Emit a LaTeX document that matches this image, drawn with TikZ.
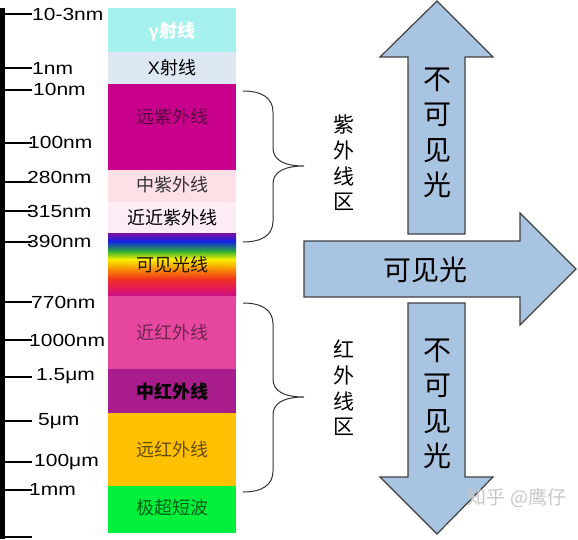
\documentclass[tikz,border=0pt]{standalone}
\usepackage{fontspec}
\setmainfont{Liberation Sans}
\newfontfamily\labfont[FakeStretch=1.2]{Liberation Sans}
\newfontfamily\cjk{Noto Sans CJK SC}

\definecolor{gammacyan}{RGB}{166,240,238}
\definecolor{xgrey}{RGB}{222,232,242}
\definecolor{farviolet}{RGB}{200,0,140}
\definecolor{midviolet}{RGB}{252,224,230}
\definecolor{nearviolet}{RGB}{253,235,246}
\definecolor{nearred}{RGB}{229,72,158}
\definecolor{midred}{RGB}{168,28,140}
\definecolor{farred}{RGB}{255,192,0}
\definecolor{microgreen}{RGB}{0,240,60}
\definecolor{arrowblue}{RGB}{169,196,225}
\definecolor{arrowedge}{RGB}{64,64,64}
\definecolor{rbviolet}{RGB}{128,16,160}
\definecolor{rbblue}{RGB}{16,32,232}
\definecolor{rbgreen}{RGB}{48,176,48}
\definecolor{rbyellow}{RGB}{248,240,0}
\definecolor{rborange}{RGB}{248,160,0}
\definecolor{rbred}{RGB}{240,48,32}
\definecolor{rbrose}{RGB}{224,24,96}
\definecolor{rbmagenta}{RGB}{192,16,140}

\tikzset{
  ticklabel/.style={anchor=base west, inner sep=0pt, font=\labfont\fontsize{17.5}{20}\selectfont},
  bandtext/.style={inner sep=0pt, font=\cjk\fontsize{18}{20}\selectfont},
  bigarrow/.style={fill=arrowblue, draw=arrowedge, line width=1.2pt, line join=miter},
  bigtext/.style={align=center, inner sep=0pt, font=\cjk\fontsize{28}{35.5}\selectfont},
  zonetext/.style={align=center, inner sep=0pt, font=\cjk\fontsize{21}{25.7}\selectfont},
  bracepath/.style={draw=black!80, line width=1pt}
}

% brace: top, tip, bottom
\newcommand\zonebrace[3]{%
  \draw[bracepath] (243,#1) .. controls (262,#1) and (273,{#1+7}) .. (273,{#1+21})
    -- (273,{#2-18}) .. controls (273,{#2-6}) and (284,#2) .. (304,#2)
    .. controls (284,#2) and (273,{#2+6}) .. (273,{#2+18})
    -- (273,{#3-21}) .. controls (273,{#3-7}) and (262,#3) .. (243,#3);}

\begin{document}
\begin{tikzpicture}[x=1pt,y=-1pt]
\useasboundingbox (0,0) rectangle (578,539);

% scale on the left
\draw[line width=5pt] (2.5,8) -- (2.5,539);
\foreach \ty/\ly/\xl/\lab in {14/14/32/10-3nm, 68/68/32/1nm, 90/89/33/10nm,
    143/142/28/100nm, 182/177/27/280nm, 211/211/27/315nm, 242/241/27/390nm,
    302/302/31/770nm, 340/340/29/1000nm, 377/374/36/1.5μm, 421/419/38/5μm,
    462/460/34/100μm, 490/489/29/1mm}{
  \draw[line width=2pt] (3,\ty) -- (32,\ty);
  \node[ticklabel] (lab\ty) at (\xl,\ly+6) {\lab};
}
\draw[line width=2pt] (0,537) -- (32,537);

% bands
\fill[gammacyan] (108,8) rectangle (236,52);
\fill[xgrey] (108,52) rectangle (236,84);
\fill[farviolet] (108,84) rectangle (236,170);
\fill[midviolet] (108,170) rectangle (236,202);
\fill[nearviolet] (108,202) rectangle (236,233);
\foreach \ya/\yb/\ca/\cb in {233/241/rbviolet/rbblue, 241/251/rbblue/rbgreen,
    251/259/rbgreen/rbyellow, 259/267/rbyellow/rborange, 267/279/rborange/rbred,
    279/289/rbred/rbrose, 289/297/rbrose/rbmagenta}{
  \shade[top color=\ca, bottom color=\cb] (108,\ya) rectangle (236,\yb+0.5);
}
\fill[nearred] (108,296) rectangle (236,369);
\fill[midred] (108,369) rectangle (236,413);
\fill[farred] (108,413) rectangle (236,486);
\fill[microgreen] (108,486) rectangle (236,533);

\node[bandtext, text=white, font=\cjk\bfseries\fontsize{18}{20}\selectfont] (gamma) at (172,32) {{\rmfamily γ}射线};
\node[bandtext] (xray) at (172,68) {{\rmfamily X}射线};
\node[bandtext, text=black!55!farviolet] (farUV) at (172,117) {远紫外线};
\node[bandtext, text=black!80] (midUV) at (172,185) {中紫外线};
\node[bandtext] (nearUV) at (172,218) {近近紫外线};
\node[bandtext, text=black!85!orange] (visible) at (172,265) {可见光线};
\node[bandtext, text=black!50!nearred] (nearIR) at (172,333) {近红外线};
\node[bandtext, font=\cjk\bfseries\fontsize{18}{20}\selectfont] (midIR) at (172,392) {中红外线};
\node[bandtext, text=black!60!farred] (farIR) at (172,450) {远红外线};
\node[bandtext, text=black!60!microgreen] (micro) at (172,508) {极超短波};

% braces
\zonebrace{91}{166}{242}
\zonebrace{303}{397}{492}
\node[zonetext] (uvzone) at (344,163) {紫\\外\\线\\区};
\node[zonetext] (irzone) at (344,388) {红\\外\\线\\区};

% arrows
\draw[bigarrow] (408,234) -- (408,57) -- (380,57) -- (437,1) -- (493,57) -- (465,57) -- (465,234) -- cycle;
\draw[bigarrow] (304,241) -- (520,241) -- (520,213) -- (576,269) -- (520,325) -- (520,297) -- (304,297) -- cycle;
\draw[bigarrow] (408,303) -- (465,303) -- (465,477) -- (493,477) -- (437,534) -- (380,477) -- (408,477) -- cycle;
\node[bigtext] (upinvis) at (437,133) {不\\可\\见\\光};
\node[bigtext] (seen) at (425,270) {可见光};
\node[bigtext] (downinvis) at (437,404) {不\\可\\见\\光};

\node[font=\cjk\fontsize{19}{20}\selectfont, text=black!22, inner sep=0pt] (mark) at (517,498) {知乎 @鹰仔};
\end{tikzpicture}
\end{document}
